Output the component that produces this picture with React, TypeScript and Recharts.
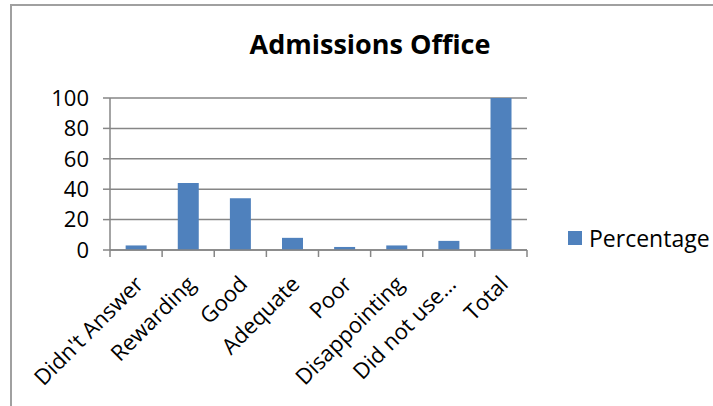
import React from "react";
import { BarChart, Bar, XAxis, YAxis, CartesianGrid } from "recharts";

const categories = [
  "Didn't Answer",
  "Rewarding",
  "Good",
  "Adequate",
  "Poor",
  "Disappointing",
  "Did not use…",
  "Total",
];
const percentage = [3, 44, 34, 8, 2, 3, 6, 100];
const yTicks = [0, 20, 40, 60, 80, 100];

const data = categories.map((name, i) => ({ name, Percentage: percentage[i] }));

const W = 713;
const H = 406;
const margin = { top: 98, right: 186, bottom: 0, left: 0 };
const yAxisWidth = 110;
const xAxisHeight = 156;
const font = "'Open Sans', sans-serif";
const gray = "#868686";
const barColor = "#4F81BD";

const plotWidth = W - margin.left - margin.right - yAxisWidth;
const band = plotWidth / categories.length;

function XTick(props: any) {
  const { x, y, payload, index } = props;
  const tx = x - 5;
  const ty = y + 14;
  return (
    <g>
      <line x1={x - band / 2} y1={y - 8} x2={x - band / 2} y2={y - 1} stroke={gray} strokeWidth={1.5} />
      {index === categories.length - 1 && (
        <line x1={x + band / 2} y1={y - 8} x2={x + band / 2} y2={y - 1} stroke={gray} strokeWidth={1.5} />
      )}
      <text
        x={tx}
        y={ty}
        transform={`rotate(-45, ${tx}, ${ty})`}
        textAnchor="end"
        dominantBaseline="hanging"
        fontSize={22}
        fontFamily={font}
        fill="#000"
      >
        {payload.value}
      </text>
    </g>
  );
}

export default function App() {
  return (
    <div style={{ position: "absolute", left: 0, top: 0, width: W, height: H, overflow: "hidden", background: "#fff" }}>
      <div
        style={{
          position: "absolute",
          left: 10,
          top: 4,
          width: 760,
          height: 460,
          border: "2px solid #A0A0A0",
        }}
      />
      <div
        style={{
          position: "absolute",
          left: 0,
          top: 25,
          width: 740,
          textAlign: "center",
          fontFamily: font,
          fontWeight: 700,
          fontSize: 27,
        }}
      >
        Admissions Office
      </div>
      <div style={{ position: "absolute", left: 0, top: 0 }}>
        <BarChart width={W} height={H} data={data} margin={margin} barCategoryGap="30%">
          <CartesianGrid vertical={false} stroke={gray} strokeWidth={1.5} />
          <XAxis
            dataKey="name"
            interval={0}
            height={xAxisHeight}
            axisLine={{ stroke: gray, strokeWidth: 1.5 }}
            tickLine={false}
            tick={<XTick />}
          />
          <YAxis
            width={yAxisWidth}
            domain={[0, 100]}
            ticks={yTicks}
            interval={0}
            axisLine={{ stroke: gray, strokeWidth: 1.5 }}
            tickLine={{ stroke: gray, strokeWidth: 1.5 }}
            tickSize={7}
            tickMargin={14}
            tick={{ fontSize: 22, fontFamily: font, fill: "#000" }}
          />
          <Bar dataKey="Percentage" fill={barColor} isAnimationActive={false} />
        </BarChart>
      </div>
      <div
        style={{
          position: "absolute",
          left: 568,
          top: 222,
          display: "flex",
          alignItems: "center",
          fontFamily: font,
          fontSize: 23,
        }}
      >
        <span style={{ width: 14, height: 14, background: barColor, display: "inline-block", marginRight: 7 }} />
        <span>Percentage</span>
      </div>
    </div>
  );
}
